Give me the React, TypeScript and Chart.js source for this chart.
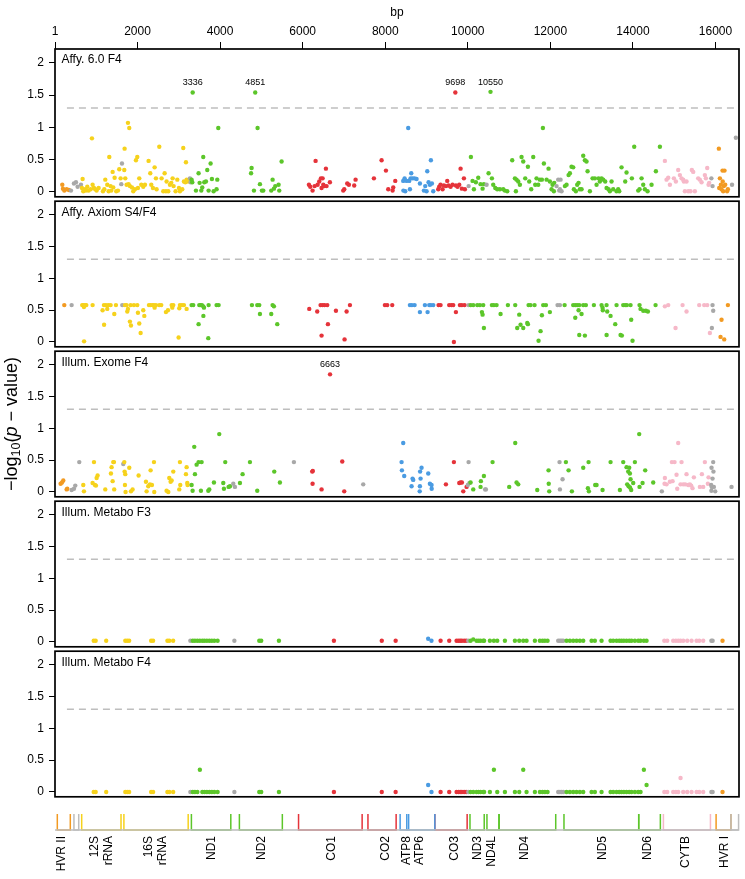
import React, { useEffect, useRef } from "react";
import { Chart, registerables } from "chart.js";
Chart.register(...registerables);

const FONT = "'Liberation Sans', Arial, Helvetica, sans-serif";

// ---- axes ----
const X_MIN = 1;
const X_MAX = 16569;
const Y_MIN = -0.076;
const Y_MAX = 2.214;
const THRESHOLD = 1.3;
const THRESH_FROM = 290;
const X_TICKS = [1, 2000, 4000, 6000, 8000, 10000, 12000, 14000, 16000];
const Y_TICKS = [0, 0.5, 1, 1.5, 2];

// ---- colours by region type ----
const TYPE_COLOR: Record<string, string> = {
  hvr: "#F29A22",
  rrna: "#F6D21C",
  nd: "#5CC62A",
  co: "#E5333A",
  atp: "#4A9BE2",
  cytb: "#F6B8C8",
};
const GREY = "#A8A8A8";
const MAP_GREY = "#BDBDBD";

// ---- mitochondrial regions ----
const GENE_TYPES = ["hvr", "rrna", "rrna", "nd", "nd", "co", "co", "atp", "atp", "co", "nd", "nd", "nd", "nd", "nd", "cytb", "hvr"];
const GENE_START = [57, 648, 1671, 3307, 4470, 5904, 7586, 8366, 8527, 9207, 10059, 10470, 10760, 12337, 14149, 14747, 16024];
const GENE_END = [372, 1601, 3229, 4262, 5511, 7445, 8269, 8572, 9207, 9990, 10404, 10766, 12137, 14148, 14673, 15887, 16383];
const GENE_LABELS: (string | string[])[] = ["HVR II", ["12S", "rRNA"], ["16S", "rRNA"], "ND1", "ND2", "CO1", "CO2", "ATP8", "ATP6", "CO3", "ND3", "ND4L", "ND4", "ND5", "ND6", "CYTB", "HVR I"];
const GENE_LABEL_POS = [162, 952, 2260, 3795, 5006, 6701, 8017, 8518, 8840, 9688, 10252, 10576, 11383, 13279, 14369, 15299, 16227];
const OTHER_START = [460, 16384];
const OTHER_END = [576, 16569];

// ---- panel titles ----
const PANEL_TITLES = ["Affy. 6.0 F4", "Affy. Axiom S4/F4", "Illum. Exome F4", "Illum. Metabo F3", "Illum. Metabo F4"];

// ---- Panel 1: Affy. 6.0 F4 ----
const P1_BP = [178, 194, 226, 283, 339, 388, 460, 509, 549, 630,
  670, 654, 686, 727, 751, 783, 815, 864, 896, 912, 945, 977, 1009, 1058, 1163, 1195, 1219, 1267, 1300, 1316, 1348, 1364, 1397, 1413, 1445, 1485, 1526, 1558, 1590, 1607, 1623,
  1687, 1679, 1703, 1736, 1768, 1800, 1784, 1816, 1865, 1897, 1937, 1962, 1994, 2010, 2042, 2091, 2139, 2180, 2268, 2309, 2333, 2373, 2414, 2446, 2462, 2527, 2583, 2624, 2656, 2688, 2704, 2745, 2785, 2817, 2850, 2874, 2922, 2963, 3003, 3027, 3084, 3108, 3124, 3157, 3173, 3189, 3221, 3270, 3286,
  3310, 3326, 3336, 3415, 3479, 3504, 3544, 3568, 3592, 3617, 3657, 3689, 3722, 3770, 3802, 3843, 3915, 3932, 3956,
  4750, 4763, 4820, 4851, 4908, 4965, 5013, 5046, 5239, 5272, 5304, 5336, 5417, 5433, 5490,
  6152, 6184, 6240, 6289, 6313, 6362, 6402, 6442, 6458, 6483, 6499, 6523, 6563, 6579, 6660, 6983, 7007, 7080, 7120, 7249, 7282, 7726, 7912, 8017, 8073, 8178, 8194, 8243,
  8436, 8440, 8469, 8485, 8517, 8557, 8582, 8598, 8614, 8630, 8662, 8711, 8759, 8840, 8937, 8969, 9001, 9018, 9050, 9082, 9106, 9130, 9163,
  9284, 9308, 9340, 9389, 9421, 9470, 9502, 9534, 9583, 9631, 9698, 9712, 9752, 9793, 9825, 9857, 9906, 9930, 10020,
  10075, 10115, 10148, 10196, 10253, 10309, 10358, 10390, 10455, 10503, 10550, 10584, 10616, 10665, 10713, 10777, 10858, 10898, 10955, 11076, 11141, 11165, 11181, 11221, 11262, 11302, 11343, 11391, 11456, 11488, 11536, 11585, 11633, 11665, 11706, 11746, 11795, 11819, 11843, 11908, 11956, 11988, 12029, 12053, 12085, 12093,
  12150, 12190, 12215, 12231, 12247, 12271,
  12352, 12392, 12441, 12473, 12513, 12553, 12570, 12618, 12650, 12683, 12715, 12755, 12796, 12836, 12876, 12901, 12957, 13022, 13078, 13119, 13167, 13199, 13240, 13280, 13328, 13361, 13409, 13441, 13482, 13522, 13603, 13643, 13668, 13724, 13813, 13845, 13974, 14031, 14128,
  14160, 14209, 14249, 14289, 14354, 14451, 14556, 14653,
  14774, 14814, 14855, 14895, 14992, 15040, 15096, 15137, 15177, 15218, 15234, 15258, 15298, 15339, 15395, 15427, 15460, 15500, 15581, 15621, 15662, 15742, 15767, 15799, 15831, 15847,
  15900, 15928, 16081, 16090, 16106, 16130, 16146, 16170, 16175, 16186, 16203, 16218, 16235, 16280, 16300, 16400, 16493];
const P1_VAL = [0.11, 0.05, 0.02, 0.04, 0.03, 0.02, 0.13, 0.15, 0.08, 0.11,
  0.20, 0.06, 0.01, 0.04, 0.02, 0.08, 0.02, 0.04, 0.83, 0.11, 0.06, 0.04, 0.02, 0.06, 0.01, 0.04, 0.19, 0.11, 0.01, 0.54, 0.09, 0.02, 0.31, 0.07, 0.22, 0.01, 0.02, 0.35, 0.21, 0.12, 0.44,
  0.67, 0.34, 0.21, 0.11, 1.07, 0.99, 0.12, 0.09, 0.07, 0.01, 0.04, 0.49, 0.54, 0.06, 0.21, 0.11, 0.08, 0.11, 0.48, 0.29, 0.11, 0.06, 0.38, 0.21, 0.04, 0.70, 0.21, 0.01, 0.29, 0.01, 0.16, 0.01, 0.11, 0.14, 0.21, 0.09, 0.01, 0.19, 0.06, 0.01, 0.04, 0.68, 0.16, 0.15, 0.46, 0.19, 0.16, 0.21, 0.15,
  0.19, 0.15, 1.54, 0.02, 0.29, 0.14, 0.02, 0.07, 0.54, 0.15, 0.16, 0.34, 0.02, 0.44, 0.20, 0.01, 0.04, 0.19, 0.99,
  0.29, 0.37, 0.02, 1.54, 0.99, 0.12, 0.02, 0.02, 0.02, 0.19, 0.05, 0.09, 0.11, 0.02, 0.47,
  0.11, 0.08, 0.02, 0.09, 0.48, 0.11, 0.16, 0.21, 0.06, 0.21, 0.11, 0.09, 0.36, 0.09, 0.15, 0.02, 0.04, 0.13, 0.11, 0.10, 0.19, 0.21, 0.49, 0.33, 0.04, 0.02, 0.07, 0.17,
  0.17, 0.02, 0.21, 0.01, 0.17, 0.99, 0.17, 0.04, 0.21, 0.29, 0.21, 0.21, 0.20, 0.13, 0.02, 0.09, 0.01, 0.32, 0.15, 0.11, 0.49, 0.13, 0.01,
  0.04, 0.08, 0.11, 0.04, 0.10, 0.09, 0.17, 0.10, 0.08, 0.11, 1.54, 0.10, 0.08, 0.11, 0.36, 0.05, 0.21, 0.04, 0.09,
  0.54, 0.17, 0.04, 0.15, 0.22, 0.12, 0.05, 0.12, 0.11, 0.29, 1.55, 0.21, 0.11, 0.06, 0.04, 0.04, 0.04, 0.02, 0.01, 0.49, 0.21, 0.01, 0.19, 0.16, 0.11, 0.54, 0.47, 0.21, 0.39, 0.16, 0.04, 0.54, 0.11, 0.21, 0.11, 0.19, 0.19, 0.99, 0.44, 0.19, 0.36, 0.16, 0.04, 0.11, 0.01, 0.14,
  0.09, 0.19, 0.02, 0.04, 0.19, 0.01,
  0.09, 0.11, 0.26, 0.29, 0.39, 0.38, 0.04, 0.01, 0.11, 0.14, 0.04, 0.04, 0.56, 0.49, 0.47, 0.32, 0.01, 0.21, 0.21, 0.11, 0.21, 0.16, 0.21, 0.19, 0.16, 0.06, 0.04, 0.01, 0.16, 0.04, 0.01, 0.04, 0.01, 0.38, 0.16, 0.30, 0.21, 0.70, 0.02,
  0.04, 0.21, 0.11, 0.04, 0.01, 0.11, 0.32, 0.70,
  0.48, 0.19, 0.22, 0.11, 0.21, 0.16, 0.34, 0.26, 0.21, 0.19, 0.16, 0.01, 0.16, 0.01, 0.01, 0.34, 0.31, 0.01, 0.21, 0.19, 0.15, 0.26, 0.21, 0.37, 0.11, 0.14,
  0.21, 0.09, 0.67, 0.06, 0.21, 0.11, 0.04, 0.33, 0.16, 0.01, 0.09, 0.33, 0.11, 0.01, 0.04, 0.11, 0.84];

// ---- Panel 2: Affy. Axiom S4/F4 ----
const P2_BP = [226, 404, 660, 686, 702, 705, 727, 759, 912, 1154, 1187, 1190, 1235, 1267, 1292, 1348, 1437, 1477, 1631, 1695, 1736, 1752, 1768, 1816, 1833, 1841, 1913, 1994, 2010, 2042, 2075, 2139, 2164, 2277, 2317, 2365, 2398, 2414, 2446, 2527, 2575, 2688, 2737, 2826, 2842, 2866, 2995, 3011, 3027, 3076, 3124, 3189,
  3310, 3350, 3479, 3496, 3528, 3560, 3592, 3595, 3609, 3714, 3722, 3915, 3964, 4771, 4900, 4949, 4965, 5239, 5272, 5304, 5385,
  6160, 6353, 6434, 6458, 6483, 6531, 6596, 6612, 6806, 7015, 7064, 7145, 7992, 8049, 8170,
  8598, 8646, 8711, 8840, 8961, 9026, 9066, 9106, 9163,
  9292, 9340, 9550, 9607, 9647, 9663, 9712, 9809, 9857, 9922, 10020,
  10070, 10132, 10229, 10293, 10342, 10358, 10374, 10390, 10584, 10632, 10697, 10794, 10971, 11149, 11197, 11246, 11278, 11343, 11440, 11456, 11472, 11520, 11617, 11714, 11762, 11795, 11827, 11892, 11988,
  12174, 12231,
  12345, 12553, 12602, 12603, 12650, 12683, 12699, 12700, 12755, 12796, 12836, 12860, 13054, 13240, 13264, 13270, 13361, 13362, 13377, 13458, 13571, 13603, 13700, 13732, 13765, 13813, 13853, 13942, 13958, 13990,
  14160, 14184, 14249, 14313, 14362, 14548,
  14774, 14855, 15032, 15202, 15298, 15605, 15726, 15799, 15864, 15912, 15928, 15944, 16122, 16146, 16211, 16300];
const P2_VAL = [0.58, 0.58, 0.58, 0.58, 0.55, 0.01, 0.58, 0.58, 0.58, 0.50, 0.58, 0.27, 0.58, 0.52, 0.58, 0.58, 0.44, 0.58, 0.58, 0.58, 0.58, 0.48, 0.52, 0.32, 0.58, 0.26, 0.58, 0.58, 0.46, 0.29, 0.14, 0.50, 0.41, 0.58, 0.58, 0.58, 0.58, 0.54, 0.58, 0.58, 0.58, 0.47, 0.50, 0.58, 0.54, 0.58, 0.07, 0.53, 0.58, 0.58, 0.58, 0.52,
  0.58, 0.58, 0.28, 0.58, 0.58, 0.58, 0.56, 0.41, 0.54, 0.06, 0.58, 0.58, 0.58, 0.58, 0.58, 0.58, 0.44, 0.44, 0.58, 0.56, 0.28,
  0.52, 0.48, 0.58, 0.10, 0.58, 0.58, 0.58, 0.28, 0.49, 0.04, 0.48, 0.58, 0.58, 0.58, 0.58,
  0.58, 0.58, 0.58, 0.47, 0.58, 0.47, 0.58, 0.58, 0.58,
  0.58, 0.58, 0.58, 0.58, 0.58, 0.00, 0.47, 0.58, 0.58, 0.58, 0.58,
  0.58, 0.58, 0.58, 0.58, 0.47, 0.43, 0.58, 0.22, 0.58, 0.58, 0.58, 0.44, 0.58, 0.58, 0.22, 0.43, 0.27, 0.22, 0.30, 0.28, 0.58, 0.58, 0.58, 0.02, 0.17, 0.42, 0.58, 0.58, 0.47,
  0.58, 0.58,
  0.58, 0.58, 0.58, 0.38, 0.58, 0.50, 0.58, 0.11, 0.44, 0.58, 0.10, 0.58, 0.58, 0.58, 0.54, 0.50, 0.58, 0.11, 0.48, 0.41, 0.28, 0.58, 0.11, 0.10, 0.58, 0.58, 0.58, 0.58, 0.35, 0.02,
  0.58, 0.52, 0.49, 0.49, 0.48, 0.58,
  0.56, 0.58, 0.22, 0.58, 0.48, 0.58, 0.58, 0.58, 0.14, 0.22, 0.58, 0.49, 0.08, 0.35, 0.04, 0.58];

// ---- Panel 3: Illum. Exome F4 ----
const P3_BP = [137, 170, 202, 283, 299, 404, 460, 492, 589,
  686, 702, 912, 945, 969, 993, 1009, 1033, 1219, 1356, 1372, 1397, 1413, 1429, 1435, 1655, 1679, 1687, 1695, 1703, 1710, 1800, 1841, 1881, 2026, 2204, 2220, 2260, 2301, 2317, 2349, 2398, 2405, 2704, 2745, 2769, 2801, 2826, 2866, 3011, 3027, 3035, 3173, 3189, 3205, 3213,
  3310, 3334, 3374, 3391, 3431, 3479, 3536, 3552, 3714, 3738, 3851, 3980, 4077, 4093, 4125, 4206, 4240, 4319, 4360, 4481, 4545, 4723, 4900, 5312, 5449, 5788,
  6232, 6245, 6240, 6458, 6663, 6959, 7007, 7467,
  8396, 8404, 8436, 8460, 8638, 8662, 8678, 8835, 8840, 8845, 8856, 8880, 9042, 9082, 9122, 9125,
  9470, 9663, 9793, 9825, 9857, 9890, 9970, 10000, 10019, 10040,
  10067, 10132, 10309, 10317, 10390, 10420, 10438, 10600, 11003, 11149, 11181, 11221, 11682, 11956, 11960, 11972, 12222, 12231, 12295,
  12376, 12441, 12521, 12796, 12909, 12925, 12933, 13086, 13119, 13264, 13458, 13684, 13765, 13845, 13861, 13886, 13894, 13910, 13926, 13930, 13942, 13958, 14007, 14047, 14152, 14160, 14233, 14297, 14491, 14700,
  14766, 14774, 14814, 14895, 14943, 14960, 15008, 15056, 15073, 15096, 15153, 15177, 15218, 15266, 15298, 15339, 15379, 15411, 15443, 15476, 15621, 15670, 15702, 15742, 15815, 15831,
  15895, 15900, 15904, 15910, 15928, 15944, 15950, 15960, 15993, 16388];
const P3_VAL = [0.13, 0.15, 0.18, 0.04, 0.05, 0.03, 0.05, 0.10, 0.47,
  0.11, 0.01, 0.14, 0.47, 0.11, 0.10, 0.22, 0.26, 0.04, 0.29, 0.39, 0.17, 0.47, 0.47, 0.04, 0.44, 0.47, 0.32, 0.11, 0.28, 0.00, 0.38, 0.01, 0.04, 0.26, 0.16, 0.01, 0.09, 0.12, 0.34, 0.11, 0.47, 0.00, 0.02, 0.00, 0.22, 0.16, 0.18, 0.32, 0.04, 0.47, 0.11, 0.28, 0.39, 0.14, 0.11,
  0.11, 0.02, 0.71, 0.28, 0.43, 0.47, 0.02, 0.47, 0.02, 0.04, 0.15, 0.91, 0.14, 0.05, 0.47, 0.08, 0.09, 0.13, 0.08, 0.14, 0.28, 0.47, 0.02, 0.32, 0.15, 0.47,
  0.32, 0.33, 0.13, 0.04, 1.85, 0.48, 0.01, 0.12,
  0.47, 0.34, 0.77, 0.25, 0.09, 0.21, 0.19, 0.01, 0.09, 0.32, 0.21, 0.38, 0.29, 0.13, 0.11, 0.05,
  0.12, 0.47, 0.14, 0.15, 0.15, 0.01, 0.08, 0.11, 0.47, 0.14,
  0.15, 0.04, 0.08, 0.17, 0.25, 0.04, 0.04, 0.47, 0.08, 0.77, 0.15, 0.12, 0.03, 0.34, 0.13, 0.01, 0.47, 0.04, 0.20,
  0.47, 0.34, 0.01, 0.38, 0.06, 0.47, 0.01, 0.11, 0.11, 0.03, 0.47, 0.03, 0.47, 0.39, 0.12, 0.32, 0.09, 0.38, 0.29, 0.07, 0.20, 0.03, 0.14, 0.47, 0.91, 0.08, 0.14, 0.34, 0.15, 0.01,
  0.13, 0.22, 0.12, 0.16, 0.47, 0.17, 0.47, 0.27, 0.05, 0.77, 0.12, 0.47, 0.12, 0.12, 0.28, 0.11, 0.12, 0.10, 0.06, 0.23, 0.08, 0.28, 0.08, 0.47, 0.13, 0.23,
  0.11, 0.02, 0.38, 0.08, 0.21, 0.47, 0.32, 0.08, 0.01, 0.08];

// ---- Panels 4 & 5: Illum. Metabo (same SNP set) ----
const METABO_BP = [939, 986, 1241, 1704, 1751, 1797, 2330, 2377, 2724, 2770, 2863,
  3280, 3338, 3390, 3450, 3510, 3570, 3620, 3680, 3740, 3800, 3860, 3940, 4346, 4949, 4996, 5425,
  6757, 7916, 8252, 9040, 9120, 9341, 9550, 9728, 9775, 9816, 9856, 9912, 9961, 10011,
  10067, 10132, 10212, 10261, 10309, 10374, 10395, 10535, 10632, 10713, 10899, 11141, 11246, 11343, 11423, 11625, 11746, 11811, 11867, 11932,
  12190, 12231, 12271, 12311, 12392, 12473, 12554, 12634, 12715, 12796, 12998, 13078, 13240, 13458, 13522, 13603, 13668, 13724, 13781, 13845, 13910, 13966, 14047, 14128, 14184, 14265, 14330,
  14760, 14830, 14975, 15040, 15097, 15153, 15218, 15315, 15420, 15541, 15606, 15702, 15900, 15930, 16170];
const P4_VAL = [0.02, 0.02, 0.02, 0.02, 0.02, 0.02, 0.02, 0.02, 0.02, 0.02, 0.02,
  0.02, 0.02, 0.02, 0.02, 0.02, 0.02, 0.02, 0.02, 0.02, 0.02, 0.02, 0.02, 0.02, 0.02, 0.02, 0.02,
  0.02, 0.02, 0.02, 0.05, 0.02, 0.02, 0.02, 0.02, 0.02, 0.02, 0.02, 0.02, 0.02, 0.02,
  0.02, 0.04, 0.02, 0.02, 0.02, 0.02, 0.02, 0.02, 0.02, 0.02, 0.02, 0.02, 0.02, 0.02, 0.02, 0.02, 0.02, 0.02, 0.02, 0.02,
  0.02, 0.02, 0.02, 0.02, 0.02, 0.02, 0.02, 0.02, 0.02, 0.02, 0.02, 0.02, 0.02, 0.02, 0.02, 0.02, 0.02, 0.02, 0.02, 0.02, 0.02, 0.02, 0.02, 0.02, 0.02, 0.02, 0.02,
  0.02, 0.02, 0.02, 0.02, 0.02, 0.02, 0.02, 0.02, 0.02, 0.02, 0.02, 0.02, 0.02, 0.02, 0.02];
const P5_VAL = [0, 0, 0, 0, 0, 0, 0, 0, 0, 0, 0,
  0, 0, 0, 0, 0.35, 0, 0, 0, 0, 0, 0, 0, 0, 0, 0, 0,
  0, 0, 0, 0.11, 0, 0, 0, 0, 0, 0, 0, 0, 0, 0,
  0, 0, 0, 0, 0, 0, 0, 0, 0.35, 0, 0, 0, 0, 0.35, 0, 0, 0, 0, 0, 0,
  0, 0, 0, 0, 0, 0, 0, 0, 0, 0, 0, 0, 0, 0, 0, 0, 0, 0, 0, 0, 0, 0, 0, 0, 0, 0.35, 0.11,
  0, 0, 0, 0, 0, 0.22, 0, 0, 0, 0, 0, 0, 0, 0, 0];

function colorFor(bp: number): string {
  for (let i = 0; i < GENE_START.length; i++) {
    if (bp >= GENE_START[i] && bp <= GENE_END[i]) return TYPE_COLOR[GENE_TYPES[i]];
  }
  return GREY;
}

const decorPlugin = {
  id: "panelDecor",
  afterDatasetsDraw(chart: any, _args: any, opts: any) {
    const { ctx } = chart;
    const { left, top, right, bottom } = chart.chartArea;
    ctx.save();
    // significant SNP labels
    const meta = chart.getDatasetMeta(1);
    const pts = chart.data.datasets[1].data;
    ctx.fillStyle = "#000";
    ctx.font = `9px ${FONT}`;
    ctx.textAlign = "center";
    ctx.textBaseline = "middle";
    meta.data.forEach((el: any, i: number) => {
      const d = pts[i];
      if (d.y > THRESHOLD) ctx.fillText(String(d.x), el.x, el.y - 9.5);
    });
    // panel title
    ctx.font = `12px ${FONT}`;
    ctx.textAlign = "left";
    ctx.fillText(opts.title, left + 6.5, top + 11);
    // frame
    ctx.lineWidth = 1.7;
    ctx.strokeStyle = "#000";
    ctx.strokeRect(left, top, right - left, bottom - top);
    // y-axis title
    if (opts.yTitle) {
      const parts = [
        { t: "\u2212log", f: `18px ${FONT}`, dy: 0 },
        { t: "10", f: `12.5px ${FONT}`, dy: 4.5 },
        { t: "(", f: `18px ${FONT}`, dy: 0 },
        { t: "p", f: `italic 18px ${FONT}`, dy: 0 },
        { t: " \u2212 ", f: `18px ${FONT}`, dy: 0 },
        { t: "value", f: `18px ${FONT}`, dy: 0 },
        { t: ")", f: `18px ${FONT}`, dy: 0 },
      ];
      let total = 0;
      const widths = parts.map((p) => {
        ctx.font = p.f;
        const w = ctx.measureText(p.t).width;
        total += w;
        return w;
      });
      ctx.translate(12, (top + bottom) / 2);
      ctx.rotate(-Math.PI / 2);
      ctx.textAlign = "left";
      let x = -total / 2;
      parts.forEach((p, i) => {
        ctx.font = p.f;
        ctx.fillText(p.t, x, p.dy);
        x += widths[i];
      });
    }
    ctx.restore();
  },
};

function panelConfig(title: string, bp: number[], val: number[], topAxis: boolean, padTop: number, yTitle: boolean): any {
  return {
    type: "scatter",
    data: {
      datasets: [
        {
          showLine: true,
          data: [{ x: THRESH_FROM, y: THRESHOLD }, { x: X_MAX, y: THRESHOLD }],
          borderColor: "#BEBEBE",
          borderWidth: 1.5,
          borderDash: [7, 5],
          pointRadius: 0,
        },
        {
          data: bp.map((x, i) => ({ x, y: val[i] })),
          pointBackgroundColor: bp.map(colorFor),
          pointBorderWidth: 0,
          pointRadius: 2.2,
        },
      ],
    },
    options: {
      responsive: false,
      animation: false,
      events: [],
      layout: { padding: { left: 0, right: 6, top: padTop, bottom: 10 } },
      plugins: {
        legend: { display: false },
        tooltip: { enabled: false },
        panelDecor: { title, yTitle },
      },
      scales: {
        x: {
          type: "linear",
          position: "top",
          display: topAxis,
          min: X_MIN,
          max: X_MAX,
          afterBuildTicks: (s: any) => {
            s.ticks = X_TICKS.map((v) => ({ value: v }));
          },
          afterFit: (s: any) => {
            s.height = topAxis ? 49 : 0;
          },
          grid: { drawOnChartArea: false, drawTicks: true, tickLength: 7, color: "#000", lineWidth: 1 },
          border: { display: false },
          ticks: { color: "#000", font: { family: FONT, size: 12 }, padding: 3, maxRotation: 0, autoSkip: false, callback: (v: any) => String(v) },
          title: { display: true, text: "bp", color: "#000", font: { family: FONT, size: 12 }, padding: { top: 5, bottom: 0 } },
        },
        y: {
          type: "linear",
          min: Y_MIN,
          max: Y_MAX,
          afterBuildTicks: (s: any) => {
            s.ticks = Y_TICKS.map((v) => ({ value: v }));
          },
          afterFit: (s: any) => {
            s.width = 55;
          },
          grid: { drawOnChartArea: false, drawTicks: true, tickLength: 6, color: "#000", lineWidth: 1 },
          border: { display: false },
          ticks: { color: "#000", font: { family: FONT, size: 12 }, padding: 5, callback: (v: any) => String(v) },
        },
      },
    },
    plugins: [decorPlugin],
  };
}

function geneConfig(): any {
  const datasets: any[] = [];
  datasets.push({
    showLine: true,
    data: [{ x: X_MIN, y: 0 }, { x: X_MAX, y: 0 }],
    borderColor: MAP_GREY,
    borderWidth: 1.5,
    pointRadius: 0,
    clip: false,
  });
  OTHER_START.forEach((s, i) => {
    datasets.push({
      showLine: true,
      data: [{ x: s, y: 1 }, { x: s, y: 0 }, { x: OTHER_END[i], y: 0 }, { x: OTHER_END[i], y: 1 }],
      borderColor: MAP_GREY,
      borderWidth: 1.5,
      pointRadius: 0,
      clip: false,
    });
  });
  GENE_START.forEach((s, i) => {
    datasets.push({
      showLine: true,
      data: [{ x: s, y: 1 }, { x: s, y: 0 }, { x: GENE_END[i], y: 0 }, { x: GENE_END[i], y: 1 }],
      borderColor: TYPE_COLOR[GENE_TYPES[i]],
      borderWidth: 1.5,
      pointRadius: 0,
      clip: false,
    });
  });
  return {
    type: "scatter",
    data: { datasets },
    options: {
      responsive: false,
      animation: false,
      events: [],
      layout: { padding: { left: 55, right: 6, top: 14, bottom: 0 } },
      plugins: { legend: { display: false }, tooltip: { enabled: false } },
      scales: {
        x: {
          type: "linear",
          position: "bottom",
          min: X_MIN,
          max: X_MAX,
          afterBuildTicks: (s: any) => {
            s.ticks = GENE_LABEL_POS.map((v) => ({ value: v }));
          },
          afterFit: (s: any) => {
            s.height = 49;
          },
          grid: { display: false, drawTicks: false },
          border: { display: false },
          ticks: {
            autoSkip: false,
            minRotation: 90,
            maxRotation: 90,
            padding: 6,
            color: "#000",
            font: { family: FONT, size: 12 },
            callback: (_v: any, i: number) => GENE_LABELS[i],
          },
        },
        y: { display: false, min: 0, max: 1 },
      },
    },
  };
}

function ChartCanvas({ top, height, config }: { top: number; height: number; config: () => any }) {
  const ref = useRef<HTMLCanvasElement>(null);
  useEffect(() => {
    const chart = new Chart(ref.current as HTMLCanvasElement, config());
    return () => chart.destroy();
  }, []);
  return (
    <canvas
      ref={ref}
      width={745}
      height={height}
      style={{ position: "absolute", left: 0, top, width: 745, height }}
    />
  );
}

export default function App() {
  return (
    <div style={{ position: "absolute", left: 0, top: 0, width: 745, height: 879, background: "#fff", overflow: "hidden" }}>
      <ChartCanvas top={0} height={209} config={() => panelConfig(PANEL_TITLES[0], P1_BP, P1_VAL, true, 0, false)} />
      <ChartCanvas top={189} height={170} config={() => panelConfig(PANEL_TITLES[1], P2_BP, P2_VAL, false, 10, false)} />
      <ChartCanvas top={339} height={170} config={() => panelConfig(PANEL_TITLES[2], P3_BP, P3_VAL, false, 10, true)} />
      <ChartCanvas top={489} height={170} config={() => panelConfig(PANEL_TITLES[3], METABO_BP, P4_VAL, false, 10, false)} />
      <ChartCanvas top={639} height={170} config={() => panelConfig(PANEL_TITLES[4], METABO_BP, P5_VAL, false, 10, false)} />
      <ChartCanvas top={800} height={79} config={geneConfig} />
    </div>
  );
}
